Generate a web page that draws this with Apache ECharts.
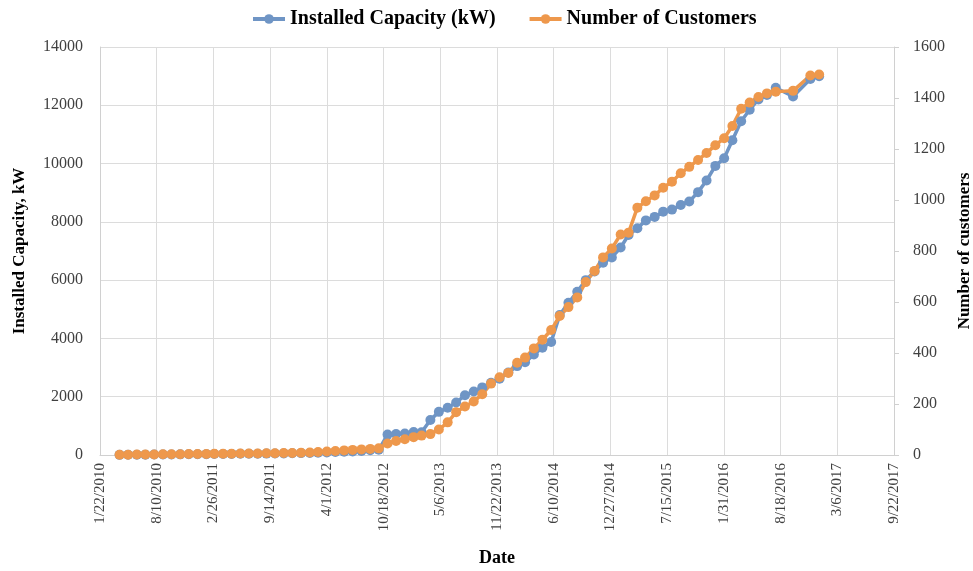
<!DOCTYPE html>
<html>
<head>
<meta charset="utf-8">
<script src="https://cdn.jsdelivr.net/npm/echarts@6/dist/echarts.min.js"></script>
<style>
html, body { margin: 0; padding: 0; background: #fff; }
#main { width: 973px; height: 571px; }
</style>
</head>
<body>
<div id="main"></div>
<script>
// monthly readings
var dates = [
    '2010-04-01', '2010-05-01', '2010-06-01', '2010-07-01', '2010-08-01', '2010-09-01', '2010-10-01', '2010-11-01', '2010-12-01',
    '2011-01-01', '2011-02-01', '2011-03-01', '2011-04-01', '2011-05-01', '2011-06-01', '2011-07-01', '2011-08-01', '2011-09-01', '2011-10-01', '2011-11-01', '2011-12-01',
    '2012-01-01', '2012-02-01', '2012-03-01', '2012-04-01', '2012-05-01', '2012-06-01', '2012-07-01', '2012-08-01', '2012-09-01', '2012-10-01', '2012-11-01', '2012-12-01',
    '2013-01-01', '2013-02-01', '2013-03-01', '2013-04-01', '2013-05-01', '2013-06-01', '2013-07-01', '2013-08-01', '2013-09-01', '2013-10-01', '2013-11-01', '2013-12-01',
    '2014-01-01', '2014-02-01', '2014-03-01', '2014-04-01', '2014-05-01', '2014-06-01', '2014-07-01', '2014-08-01', '2014-09-01', '2014-10-01', '2014-11-01', '2014-12-01',
    '2015-01-01', '2015-02-01', '2015-03-01', '2015-04-01', '2015-05-01', '2015-06-01', '2015-07-01', '2015-08-01', '2015-09-01', '2015-10-01', '2015-11-01', '2015-12-01',
    '2016-01-01', '2016-02-01', '2016-03-01', '2016-04-01', '2016-05-01', '2016-06-01', '2016-07-01', '2016-08-01', '2016-10-01', '2016-12-01',
    '2017-01-01'
];
var capacity = [
    5, 8, 10, 12, 15, 18, 20, 22, 25,
    28, 30, 32, 35, 38, 40, 42, 45, 48, 50, 55, 60,
    65, 70, 80, 90, 100, 110, 120, 140, 160, 180, 700, 720,
    740, 790, 780, 1200, 1480, 1620, 1800, 2050, 2180, 2320, 2480, 2620,
    2830, 3050, 3180, 3450, 3680, 3880, 4800, 5220, 5600, 6000, 6300, 6600,
    6780, 7120, 7550, 7780, 8050, 8170, 8350, 8420, 8580, 8700, 9020, 9420,
    9920, 10180, 10800, 11450, 11850, 12200, 12350, 12600, 12300, 12900,
    13000
];
var customers = [
    1, 1, 2, 2, 2, 3, 3, 3, 4,
    4, 4, 5, 5, 5, 6, 6, 6, 7, 7, 8, 8,
    9, 10, 12, 14, 16, 18, 20, 22, 24, 26, 45, 55,
    62, 70, 76, 82, 100, 128, 168, 190, 210, 238, 280, 305,
    322, 362, 382, 418, 452, 490, 545, 580, 618, 678, 722, 775,
    810, 865, 872, 970, 995, 1018, 1048, 1072, 1105, 1130, 1157, 1184,
    1215, 1242, 1290, 1358, 1382, 1404, 1418, 1425, 1428, 1488,
    1492
];

// dates go on the axis as spreadsheet day numbers
var BASE = Date.UTC(1899, 11, 30);
function toSerial(s) {
    var p = s.split('-');
    return (Date.UTC(+p[0], +p[1] - 1, +p[2]) - BASE) / 86400000;
}
function serialLabel(v) {
    var d = new Date(BASE + v * 86400000);
    return (d.getUTCMonth() + 1) + '/' + d.getUTCDate() + '/' + d.getUTCFullYear();
}
function plain(v) {
    return String(v);
}

var capData = dates.map(function (d, i) { return [toSerial(d), capacity[i]]; });
var custData = dates.map(function (d, i) { return [toSerial(d), customers[i]]; });

var FONT = 'Liberation Serif';
var BLUE = '#6f95c5';
var ORANGE = '#ee984c';

var myChart = echarts.init(document.getElementById('main'));
var option = {
    animation: false,
    textStyle: {fontFamily: FONT},
    legend: {
        top: 4,
        left: 246,
        itemWidth: 32,
        itemHeight: 12,
        itemGap: 32,
        lineStyle: {width: 4},
        textStyle: {fontFamily: FONT, fontSize: 20, fontWeight: 'bold', color: '#000'},
        data: ['Installed Capacity (kW)', 'Number of Customers']
    },
    grid: {left: 100, right: 79, top: 47, bottom: 116, containLabel: false, outerBoundsMode: 'none'},
    xAxis: {
        type: 'value',
        min: 40200,
        max: 43000,
        interval: 200,
        name: 'Date',
        nameLocation: 'middle',
        nameGap: 94,
        nameTextStyle: {fontFamily: FONT, fontSize: 18, fontWeight: 'bold', color: '#000'},
        axisLine: {lineStyle: {color: '#d0d0d0'}},
        axisTick: {show: false},
        axisLabel: {
            rotate: 90,
            margin: 8,
            fontFamily: FONT,
            fontSize: 15,
            color: '#404040',
            formatter: serialLabel
        },
        splitLine: {show: true, lineStyle: {color: '#dcdcdc'}}
    },
    yAxis: [
        {
            type: 'value',
            min: 0,
            max: 14000,
            interval: 2000,
            name: 'Installed Capacity, kW',
            nameLocation: 'middle',
            nameRotate: 90,
            nameGap: 72,
            nameTextStyle: {fontFamily: FONT, fontSize: 17, fontWeight: 'bold', color: '#000'},
            axisLine: {show: true, lineStyle: {color: '#d0d0d0'}},
            axisTick: {show: false},
            axisLabel: {margin: 17, fontFamily: FONT, fontSize: 16, color: '#404040', formatter: plain},
            splitLine: {show: true, lineStyle: {color: '#dcdcdc'}}
        },
        {
            type: 'value',
            position: 'right',
            min: 0,
            max: 1600,
            interval: 200,
            name: 'Number of customers',
            nameLocation: 'middle',
            nameRotate: 90,
            nameGap: 62,
            nameTextStyle: {fontFamily: FONT, fontSize: 17, fontWeight: 'bold', color: '#000'},
            axisLine: {show: true, lineStyle: {color: '#d0d0d0'}},
            axisTick: {show: true, length: 5, lineStyle: {color: '#d0d0d0'}},
            axisLabel: {margin: 19, fontFamily: FONT, fontSize: 16, color: '#404040', formatter: plain},
            splitLine: {show: false}
        }
    ],
    series: [
        {
            name: 'Installed Capacity (kW)',
            type: 'line',
            yAxisIndex: 0,
            data: capData,
            symbol: 'circle',
            symbolSize: 10,
            showAllSymbol: true,
            itemStyle: {color: BLUE},
            lineStyle: {color: BLUE, width: 3.5}
        },
        {
            name: 'Number of Customers',
            type: 'line',
            yAxisIndex: 1,
            data: custData,
            symbol: 'circle',
            symbolSize: 10,
            showAllSymbol: true,
            itemStyle: {color: ORANGE},
            lineStyle: {color: ORANGE, width: 3.5}
        }
    ]
};
myChart.setOption(option);
</script>
</body>
</html>
